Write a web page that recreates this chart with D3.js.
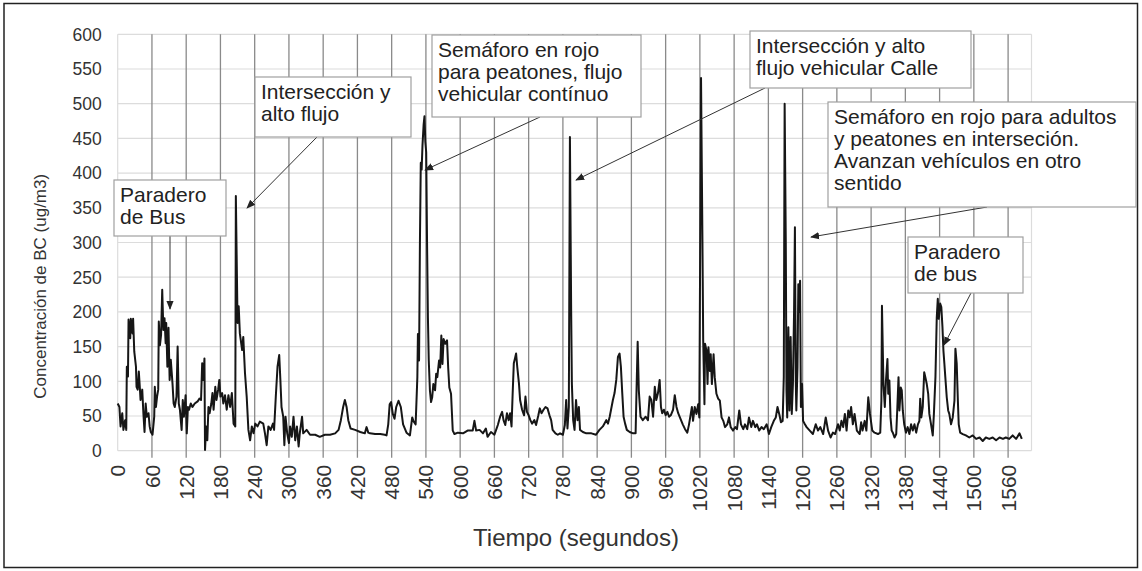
<!DOCTYPE html>
<html>
<head>
<meta charset="utf-8">
<script src="https://cdn.jsdelivr.net/npm/d3@7"></script>
<style>
  html, body { margin: 0; padding: 0; background: #fff; }
  svg { display: block; font-family: "Liberation Sans", Arial, Helvetica, sans-serif; }
</style>
</head>
<body>
<svg id="chart" width="1142" height="571"></svg>
<script>
// Tiempo (s) y concentración de BC (ug/m3)
const tiempo = [
  0, 3, 5, 8, 10, 13, 15, 16, 18, 19, 22, 23, 26, 27, 29, 32, 33, 35, 37, 39,
  40, 43, 45, 47, 49, 51, 54, 56, 58, 61, 64, 65, 67, 69, 71, 72, 74, 76, 78, 80,
  82, 84, 85, 87, 89, 91, 93, 96, 98, 100, 103, 105, 107, 109, 112, 114, 116, 119, 121, 123,
  125, 128, 131, 135, 140, 143, 146, 148, 150, 152, 153, 155, 157, 159, 161, 164, 166, 168, 171, 173,
  176, 178, 180, 183, 185, 188, 191, 194, 197, 200, 203, 206, 207, 210, 212, 214, 218, 220, 223, 226,
  229, 232, 235, 238, 241, 245, 249, 255, 258, 261, 264, 268, 272, 274, 277, 280, 283, 285, 287, 290,
  292, 294, 297, 300, 302, 305, 308, 311, 314, 317, 319, 323, 325, 331, 337, 346, 354, 363, 372, 381,
  387, 391, 395, 398, 401, 404, 408, 416, 425, 433, 436, 439, 442, 451, 460, 468, 471, 474, 476.5, 479,
  482, 485, 488, 492, 496, 500, 506, 512, 516, 518, 522, 525, 526, 528, 529.5, 531, 532.5, 534, 536, 537.5,
  539, 540.5, 542, 543.5, 545, 547, 549, 551, 553, 556, 558, 560, 563, 565, 567, 569, 571, 574, 577, 579,
  581, 584, 587, 590, 596, 605, 613, 622, 625, 628, 634, 640, 645, 648, 654, 660, 663, 666, 670, 673.5,
  676, 679, 682, 685, 687.5, 690, 692, 694, 696, 698, 700, 703, 705, 708.5, 712, 714.4, 717, 720, 723, 726,
  730, 733, 737, 739.5, 742.5, 746, 749.5, 753, 756.5, 759.4, 762, 767, 771, 775, 780, 783.4, 785.7, 788, 790.4, 792.3,
  794.5, 795.7, 798, 800.4, 803, 805.6, 808, 810, 815, 821, 830, 838, 844, 850, 856, 859, 862, 867.6, 870.5, 873.5,
  876.4, 879.3, 881.6, 884, 886.3, 889, 892, 897, 903, 907.4, 909, 911, 913, 916, 920, 925, 929, 932, 935, 938,
  941, 943.6, 946.6, 949.5, 951.8, 954, 957, 960, 963, 966, 969, 973, 976, 979, 982, 985, 990, 994, 998, 1001,
  1004, 1006, 1008, 1011, 1014, 1017, 1019, 1022, 1024.5, 1025.8, 1028, 1029, 1031.7, 1033.4, 1035, 1037.5, 1039, 1041, 1044, 1046,
  1049, 1052, 1055, 1058, 1061, 1064, 1068, 1071, 1074, 1078, 1082, 1085, 1089, 1092, 1096, 1099, 1103, 1106, 1110, 1113,
  1117, 1120, 1124, 1128, 1132, 1137, 1141, 1145, 1149.5, 1153, 1156, 1159, 1162, 1165, 1167, 1168.5, 1170.5, 1171.7, 1173, 1175,
  1177, 1179, 1181, 1183, 1185, 1186.5, 1188, 1189, 1191, 1192.5, 1194, 1195.5, 1197, 1199, 1200.8, 1204, 1207, 1212.5, 1218, 1223,
  1227, 1231, 1236, 1240.5, 1244.6, 1249, 1253, 1257, 1262, 1265, 1268, 1271, 1274, 1277, 1280, 1282.5, 1285, 1288, 1291, 1295,
  1300, 1302.5, 1305, 1308.7, 1311.7, 1315, 1318, 1322, 1326, 1332, 1336, 1338, 1339, 1341.6, 1344, 1346, 1348.6, 1350, 1352, 1354,
  1356, 1358, 1361, 1364, 1366, 1368, 1369.6, 1372, 1373.7, 1375.5, 1378, 1381, 1384, 1387, 1390, 1393, 1396, 1399, 1402, 1404.6,
  1406, 1408, 1410.5, 1413, 1415, 1417.5, 1420, 1422, 1425, 1428, 1430, 1432.7, 1435, 1436.8, 1438.5, 1441, 1443, 1445, 1446.7, 1448.4,
  1450, 1452.5, 1455, 1457, 1460, 1463, 1466, 1467.7, 1470, 1472, 1473.5, 1476, 1480.5, 1486, 1492, 1498, 1504, 1510, 1515.6, 1521,
  1527, 1533, 1539, 1545, 1551, 1556, 1562, 1568, 1574, 1580, 1584
];
const concentracion = [
  68, 63, 35, 54, 30, 44, 30, 121, 107, 189, 162, 190, 169, 190, 143, 121, 92, 88, 114, 88,
  73, 88, 54, 27, 68, 49, 54, 35, 27, 23, 49, 92, 63, 78, 88, 186, 152, 167, 232, 174,
  191, 155, 184, 121, 177, 102, 131, 97, 68, 63, 78, 150, 68, 59, 30, 73, 49, 80, 25, 63,
  59, 68, 63, 68, 71, 75, 73, 126, 102, 133, 1, 35, 15, 63, 54, 68, 83, 59, 92, 73,
  88, 102, 78, 83, 68, 80, 59, 80, 63, 83, 39, 35, 367, 184, 208, 169, 145, 164, 112, 78,
  30, 15, 35, 25, 39, 35, 42, 39, 25, 8, 35, 30, 39, 30, 78, 121, 138, 102, 63, 49,
  8, 49, 25, 11, 35, 20, 49, 15, 35, 6, 25, 49, 25, 30, 23, 23, 20, 23, 23, 25,
  30, 44, 63, 73, 63, 44, 32, 30, 27, 25, 34, 26, 25, 24, 24, 23, 22, 38, 67, 70,
  53, 46, 63, 72, 63, 38, 26, 22, 48, 43, 38, 106, 168, 130, 300, 415, 405, 440, 470, 482,
  445, 430, 300, 192, 130, 87, 70, 77, 96, 87, 111, 106, 130, 120, 166, 125, 161, 154, 159, 120,
  91, 82, 29, 24, 26, 25, 29, 29, 43, 29, 30, 25, 32, 20, 27, 23, 30, 37, 49, 56,
  44, 37, 54, 44, 54, 35, 83, 126, 133, 140, 121, 97, 73, 59, 51, 78, 56, 51, 44, 39,
  44, 37, 51, 61, 54, 59, 63, 61, 51, 44, 30, 25, 23, 25, 23, 37, 73, 32, 63, 452,
  200, 97, 44, 30, 73, 44, 63, 30, 27, 25, 25, 23, 30, 35, 44, 39, 49, 73, 83, 102,
  135, 140, 121, 83, 49, 39, 30, 27, 25, 25, 87, 157, 87, 49, 44, 49, 44, 78, 73, 49,
  92, 73, 83, 102, 63, 54, 59, 51, 56, 49, 51, 59, 80, 63, 54, 48, 38, 31, 26, 38,
  53, 63, 43, 63, 53, 67, 48, 537, 300, 159, 67, 154, 144, 96, 149, 115, 139, 96, 139, 106,
  82, 75, 72, 48, 43, 34, 38, 48, 34, 29, 34, 31, 58, 38, 31, 38, 31, 48, 34, 43,
  34, 38, 29, 34, 31, 38, 24, 34, 43, 48, 63, 53, 41, 43, 106, 500, 300, 87, 48, 178,
  58, 164, 53, 96, 200, 322, 100, 58, 120, 240, 200, 245, 63, 96, 43, 38, 34, 29, 24, 38,
  29, 34, 24, 48, 29, 19, 26, 24, 38, 29, 43, 34, 53, 29, 58, 48, 63, 38, 53, 29,
  24, 41, 29, 43, 29, 77, 53, 29, 26, 24, 26, 72, 209, 96, 63, 101, 132, 82, 101, 48,
  29, 26, 19, 24, 63, 106, 58, 91, 87, 58, 38, 26, 34, 24, 38, 29, 38, 26, 38, 43,
  75, 48, 63, 113, 106, 96, 82, 53, 38, 22, 53, 106, 192, 219, 190, 212, 207, 178, 144, 125,
  106, 77, 58, 53, 38, 48, 72, 147, 125, 72, 38, 26, 24, 22, 19, 22, 17, 19, 14, 19,
  17, 19, 15, 19, 17, 19, 17, 22, 17, 25, 17
];

const xTicks = [0, 60, 120, 180, 240, 300, 360, 420, 480, 540, 600, 660, 720, 780, 840, 900,
  960, 1020, 1080, 1140, 1200, 1260, 1320, 1380, 1440, 1500, 1560];
const yTicks = [0, 50, 100, 150, 200, 250, 300, 350, 400, 450, 500, 550, 600];

// Notas del gráfico (cuadro en píxeles, flecha desde el cuadro hasta el pico)
const notas = [
  { lines: ['Paradero', 'de Bus'], box: [114, 180, 112, 56], arrow: [170, 236, 170, 309] },
  { lines: ['Intersección y', 'alto flujo'], box: [255, 77, 156, 60], arrow: [317, 137, 247, 208] },
  { lines: ['Semáforo en rojo', 'para peatones, flujo', 'vehicular contínuo'], box: [432, 35, 209, 82], arrow: [540, 117, 425, 170] },
  { lines: ['Intersección y alto', 'flujo vehicular Calle'], box: [750, 31, 221, 57], arrow: [765, 88, 576, 180] },
  { lines: ['Semáforo en rojo para adultos', 'y peatones en interseción.', 'Avanzan vehículos en otro', 'sentido'], box: [828, 102, 308, 105], arrow: [987, 207, 811, 237] },
  { lines: ['Paradero', 'de bus'], box: [908, 237, 115, 56], arrow: [971, 293, 944, 345] }
];

const W = 1142, H = 571;
const plot = { left: 117.7, right: 1031.5, top: 34.3, bottom: 450.7 };

const svg = d3.select('#chart');

const x = d3.scaleLinear().domain([0, 1601]).range([plot.left, plot.right]);
const y = d3.scaleLinear().domain([0, 600]).range([plot.bottom, plot.top]);

// Marco exterior
svg.append('rect')
  .attr('x', 4).attr('y', 3.5)
  .attr('width', W - 8.5).attr('height', H - 7)
  .attr('fill', '#fff')
  .attr('stroke', '#222')
  .attr('stroke-width', 1.5);

// Cuadrícula horizontal
svg.append('g')
  .selectAll('line')
  .data(yTicks)
  .enter().append('line')
  .attr('x1', plot.left).attr('x2', plot.right)
  .attr('y1', d => y(d)).attr('y2', d => y(d))
  .attr('stroke', '#dcdcdc')
  .attr('stroke-width', 1.2);

// Bordes izquierdo y derecho del área
svg.append('g')
  .selectAll('line')
  .data([plot.left, plot.right])
  .enter().append('line')
  .attr('x1', d => d).attr('x2', d => d)
  .attr('y1', plot.top).attr('y2', plot.bottom)
  .attr('stroke', '#dcdcdc')
  .attr('stroke-width', 1.2);

// Cuadrícula vertical cada 60 s
svg.append('g')
  .selectAll('line')
  .data(xTicks.filter(d => d > 0))
  .enter().append('line')
  .attr('x1', d => x(d)).attr('x2', d => x(d))
  .attr('y1', plot.top).attr('y2', plot.bottom + 7)
  .attr('stroke', '#8a8a8a')
  .attr('stroke-width', 1.3);

// Etiquetas del eje Y
svg.append('g')
  .selectAll('text')
  .data(yTicks)
  .enter().append('text')
  .attr('x', plot.left - 16)
  .attr('y', d => y(d))
  .attr('dy', '0.36em')
  .attr('text-anchor', 'end')
  .attr('font-size', '17.5px')
  .attr('fill', '#333')
  .text(d => d);

// Etiquetas del eje X (rotadas)
svg.append('g')
  .selectAll('text')
  .data(xTicks)
  .enter().append('text')
  .attr('transform', d => `translate(${x(d)},${plot.bottom + 14}) rotate(-90)`)
  .attr('dy', '0.36em')
  .attr('text-anchor', 'end')
  .attr('font-size', '21px')
  .attr('fill', '#333')
  .text(d => d);

// Títulos de ejes
svg.append('text')
  .attr('transform', `translate(40,${plot.top + 252}) rotate(-90)`)
  .attr('dy', '0.36em')
  .attr('text-anchor', 'middle')
  .attr('font-size', '17px')
  .attr('fill', '#333')
  .text('Concentración de BC (ug/m3)');

svg.append('text')
  .attr('x', 576)
  .attr('y', 546)
  .attr('text-anchor', 'middle')
  .attr('font-size', '24px')
  .attr('fill', '#333')
  .text('Tiempo (segundos)');

// Serie
const serie = tiempo.map((t, i) => [t, concentracion[i]]);
svg.append('path')
  .datum(serie)
  .attr('fill', 'none')
  .attr('stroke', '#161616')
  .attr('stroke-width', 2)
  .attr('stroke-linejoin', 'round')
  .attr('d', d3.line().x(d => x(d[0])).y(d => y(d[1])));

// Punta de flecha
svg.append('defs').append('marker')
  .attr('id', 'punta')
  .attr('viewBox', '0 0 10 10')
  .attr('refX', 9).attr('refY', 5)
  .attr('markerWidth', 9).attr('markerHeight', 9)
  .attr('markerUnits', 'userSpaceOnUse')
  .attr('orient', 'auto')
  .append('path')
  .attr('d', 'M0,1 L10,5 L0,9 Z')
  .attr('fill', '#222');

// Cuadros de notas con flechas
const nota = svg.append('g').selectAll('g')
  .data(notas)
  .enter().append('g');

nota.append('line')
  .attr('x1', d => d.arrow[0]).attr('y1', d => d.arrow[1])
  .attr('x2', d => d.arrow[2]).attr('y2', d => d.arrow[3])
  .attr('stroke', '#333')
  .attr('stroke-width', 1)
  .attr('marker-end', 'url(#punta)');

nota.append('rect')
  .attr('x', d => d.box[0]).attr('y', d => d.box[1])
  .attr('width', d => d.box[2]).attr('height', d => d.box[3])
  .attr('fill', '#fff')
  .attr('stroke', '#a0a0a0')
  .attr('stroke-width', 1.2);

nota.append('text')
  .attr('font-size', '21px')
  .attr('fill', '#222')
  .selectAll('tspan')
  .data(d => d.lines.map((l, i) => ({ l, i, b: d.box })))
  .enter().append('tspan')
  .attr('x', d => d.b[0] + 6)
  .attr('y', d => d.b[1] + 21.5 + d.i * 22)
  .text(d => d.l);
</script>
</body>
</html>
